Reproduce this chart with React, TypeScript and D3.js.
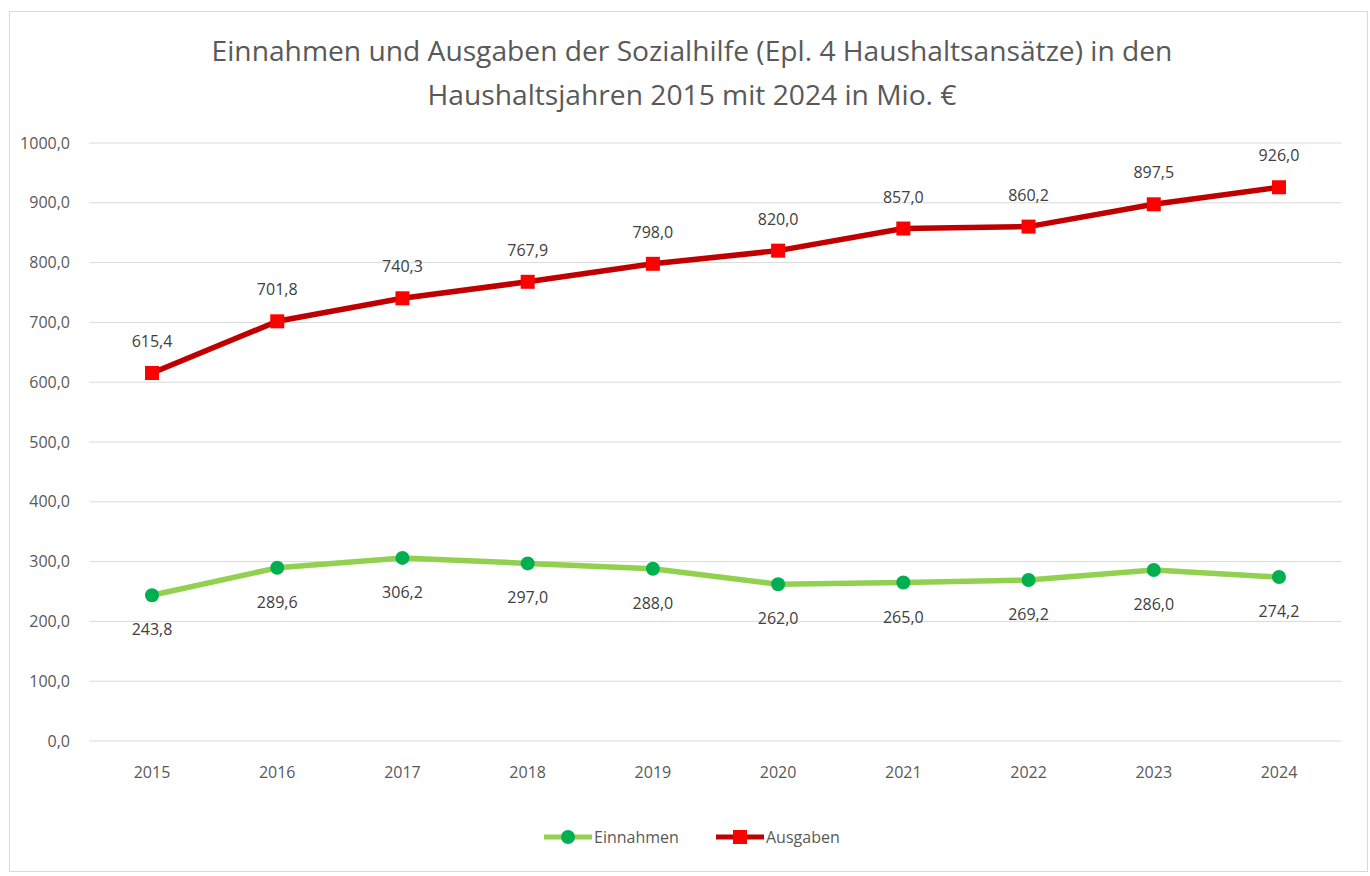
import React from 'react';
import * as d3 from 'd3';

const years = ['2015', '2016', '2017', '2018', '2019', '2020', '2021', '2022', '2023', '2024'];
const einnahmen = [243.8, 289.6, 306.2, 297.0, 288.0, 262.0, 265.0, 269.2, 286.0, 274.2];
const ausgaben = [615.4, 701.8, 740.3, 767.9, 798.0, 820.0, 857.0, 860.2, 897.5, 926.0];
const yTicks = [0, 100, 200, 300, 400, 500, 600, 700, 800, 900, 1000];
const titleLines = [
  'Einnahmen und Ausgaben der Sozialhilfe (Epl. 4 Haushaltsansätze) in den',
  'Haushaltsjahren 2015 mit 2024 in Mio. €',
];

const W = 1370;
const H = 876;
const FONT = "'Open Sans', 'Noto Sans', sans-serif";
const fmt = (v: number) => v.toFixed(1).replace('.', ',');

export default function App() {
  // plot area
  const left = 89.4, right = 1341.6, top = 143, bottom = 741;

  const x = d3.scaleBand<string>().domain(years).range([left, right]);
  const cx = (y: string) => (x(y) as number) + x.bandwidth() / 2;
  const y = d3.scaleLinear().domain([0, 1000]).range([bottom, top]);

  const line = d3.line<number>()
    .x((d, i) => cx(years[i]))
    .y(d => y(d));

  const greenLine = '#92d050';
  const greenDot = '#00b050';
  const redLine = '#c00000';
  const redDot = '#ff0000';

  return (
    <svg width={W} height={H} style={{ position: 'absolute', left: 0, top: 0, display: 'block' }}>
      <rect x={0} y={0} width={W} height={H} fill="#fff" />
      <rect x={9.5} y={11.5} width={1358} height={860} fill="#fff" stroke="#d9d9d9" />

      {titleLines.map((t, i) => (
        <text key={i} x={692} y={61 + i * 44} textAnchor="middle" fontFamily={FONT}
          fontSize={28.2} fill="#595959">{t}</text>
      ))}

      {/* gridlines + y labels */}
      {yTicks.map(t => (
        <g key={t}>
          <line x1={left} x2={right} y1={y(t)} y2={y(t)} stroke="#d9d9d9" strokeWidth={1} />
          <text x={70} y={y(t)} dy="0.35em" textAnchor="end" fontFamily={FONT}
            fontSize={16} fill="#595959">{fmt(t)}</text>
        </g>
      ))}

      {/* x labels */}
      {years.map(yr => (
        <text key={yr} x={cx(yr)} y={778} textAnchor="middle" fontFamily={FONT}
          fontSize={16} fill="#595959">{yr}</text>
      ))}

      {/* Einnahmen */}
      <path d={line(einnahmen) as string} fill="none" stroke={greenLine} strokeWidth={5.5}
        strokeLinejoin="round" />
      {einnahmen.map((v, i) => (
        <g key={i}>
          <circle cx={cx(years[i])} cy={y(v)} r={7} fill={greenDot} />
          <text x={cx(years[i])} y={y(v) + 40} textAnchor="middle" fontFamily={FONT}
            fontSize={16} fill="#404040">{fmt(v)}</text>
        </g>
      ))}

      {/* Ausgaben */}
      <path d={line(ausgaben) as string} fill="none" stroke={redLine} strokeWidth={5.5}
        strokeLinejoin="round" />
      {ausgaben.map((v, i) => (
        <g key={i}>
          <rect x={cx(years[i]) - 7} y={y(v) - 7} width={14} height={14} fill={redDot} />
          <text x={cx(years[i])} y={y(v) - 26} textAnchor="middle" fontFamily={FONT}
            fontSize={16} fill="#404040">{fmt(v)}</text>
        </g>
      ))}

      {/* legend */}
      <g fontFamily={FONT} fontSize={16} fill="#595959">
        <line x1={544} x2={592} y1={837} y2={837} stroke={greenLine} strokeWidth={5} />
        <circle cx={568} cy={837} r={7} fill={greenDot} />
        <text x={594} y={837} dy="0.35em">Einnahmen</text>
        <line x1={716} x2={764} y1={837} y2={837} stroke={redLine} strokeWidth={5} />
        <rect x={733} y={830} width={14} height={14} fill={redDot} />
        <text x={766} y={837} dy="0.35em">Ausgaben</text>
      </g>
    </svg>
  );
}
